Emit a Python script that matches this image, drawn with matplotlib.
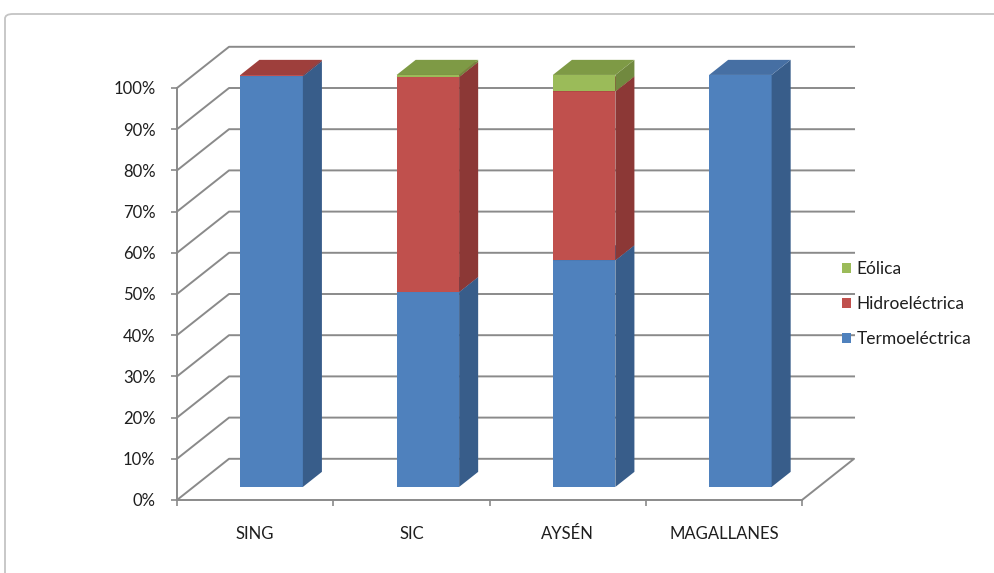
import numpy as np
import matplotlib.pyplot as plt
from matplotlib.patches import Polygon, Patch, FancyBboxPatch

# data (share of generation per system, %)
categories = ["SING", "SIC", "AYSÉN", "MAGALLANES"]
series = ["Termoeléctrica", "Hidroeléctrica", "Eólica"]
termo = [99.7, 47.3, 55.0, 100.0]
hidro = [0.3, 52.2, 41.0, 0.0]
eolica = [0.0, 0.5, 4.0, 0.0]
yticks = [0, 10, 20, 30, 40, 50, 60, 70, 80, 90, 100]

# face colours: front, side, top
colors = {
    "Termoeléctrica": ("#4f81bd", "#385d8a", "#466fa3"),
    "Hidroeléctrica": ("#c0504d", "#8c3836", "#9e3f3c"),
    "Eólica": ("#9bbb59", "#71893f", "#7e9a45"),
}

plt.rcParams['font.family'] = ['Lato', 'DejaVu Sans']

fig = plt.figure(figsize=(9.95, 5.73), dpi=100)
ax = fig.add_axes([177/995, 73/573, 625/995, 412/573])
ax.set_xlim(-0.5, 3.5)
ax.set_ylim(0, 100)

# chart frame
frame = FancyBboxPatch((5/995, -0.05), 1.1, (573-14)/573 + 0.05,
                       boxstyle="round,pad=0,rounding_size=0.008",
                       transform=fig.transFigure, facecolor="white",
                       edgecolor="#c4c4c4", lw=1.3, zorder=-10)
fig.patches.append(frame)

# 3d depth of the floor / walls, in data units
DX, DY = 0.333, 10.0
f0, f1 = 0.317, 0.683   # bar depth range (fraction of full depth)
bw = 0.40
grid_c = "#8a8a8a"
n = len(categories)

def line(xs, ys, **kw):
    ax.plot(xs, ys, color=grid_c, lw=1.4, clip_on=False, **kw)

# gridlines: diagonal from front axis, then along back wall
for v in yticks[1:]:
    line([-0.5, -0.5 + DX, n - 0.5 + DX], [v, v + DY, v + DY], zorder=1)
# floor
line([-0.5, -0.5 + DX, n - 0.5 + DX, n - 0.5], [0, DY, DY, 0], zorder=1)

# bars
stack = np.array([termo, hidro, eolica])
z = 5
for i in range(n):
    bottom = 0.0
    for s, name in enumerate(series):
        h = stack[s][i]
        if h <= 0:
            continue
        front, side, top = colors[name]
        x0 = i - bw/2 + f0*DX
        x1 = x0 + bw
        y0 = bottom + f0*DY
        y1 = y0 + h
        ddx, ddy = (f1 - f0)*DX, (f1 - f0)*DY
        ax.add_patch(Polygon([(x0, y0), (x1, y0), (x1, y1), (x0, y1)],
                             closed=True, facecolor=front, lw=0, clip_on=False, zorder=z))
        ax.add_patch(Polygon([(x1, y0), (x1 + ddx, y0 + ddy), (x1 + ddx, y1 + ddy), (x1, y1)],
                             closed=True, facecolor=side, lw=0, clip_on=False, zorder=z))
        ax.add_patch(Polygon([(x0, y1), (x1, y1), (x1 + ddx, y1 + ddy), (x0 + ddx, y1 + ddy)],
                             closed=True, facecolor=top, lw=0, clip_on=False, zorder=z))
        z += 1
        bottom += h

# axes
for sp in ["top", "right"]:
    ax.spines[sp].set_visible(False)
for sp in ["left", "bottom"]:
    ax.spines[sp].set_color(grid_c)
    ax.spines[sp].set_linewidth(1.4)
ax.patch.set_alpha(0)

ax.set_yticks(yticks)
ax.set_yticklabels([f"{v}%" for v in yticks])
ax.tick_params(axis="y", length=4.5, width=1.2, color=grid_c, pad=11,
               labelsize=12, labelcolor="#1e1e1e")
ax.set_xticks(range(n))
ax.set_xticklabels(categories)
ax.tick_params(axis="x", which="major", length=0, pad=19,
               labelsize=12, labelcolor="#1e1e1e")
ax.set_xticks(np.arange(-0.5, n, 1.0), minor=True)
ax.tick_params(axis="x", which="minor", length=4.5, width=1.2, color=grid_c)

handles = [Patch(facecolor=colors[s][0], edgecolor="none") for s in series[::-1]]
ax.legend(handles, series[::-1], loc="center left",
          bbox_to_anchor=(826/995, 1 - 304/573), bbox_transform=fig.transFigure,
          frameon=False, handlelength=0.55, handleheight=0.55, handletextpad=0.3,
          labelspacing=1.1, fontsize=12.5, labelcolor="#1e1e1e")

fig.savefig("out.png", dpi=100)
